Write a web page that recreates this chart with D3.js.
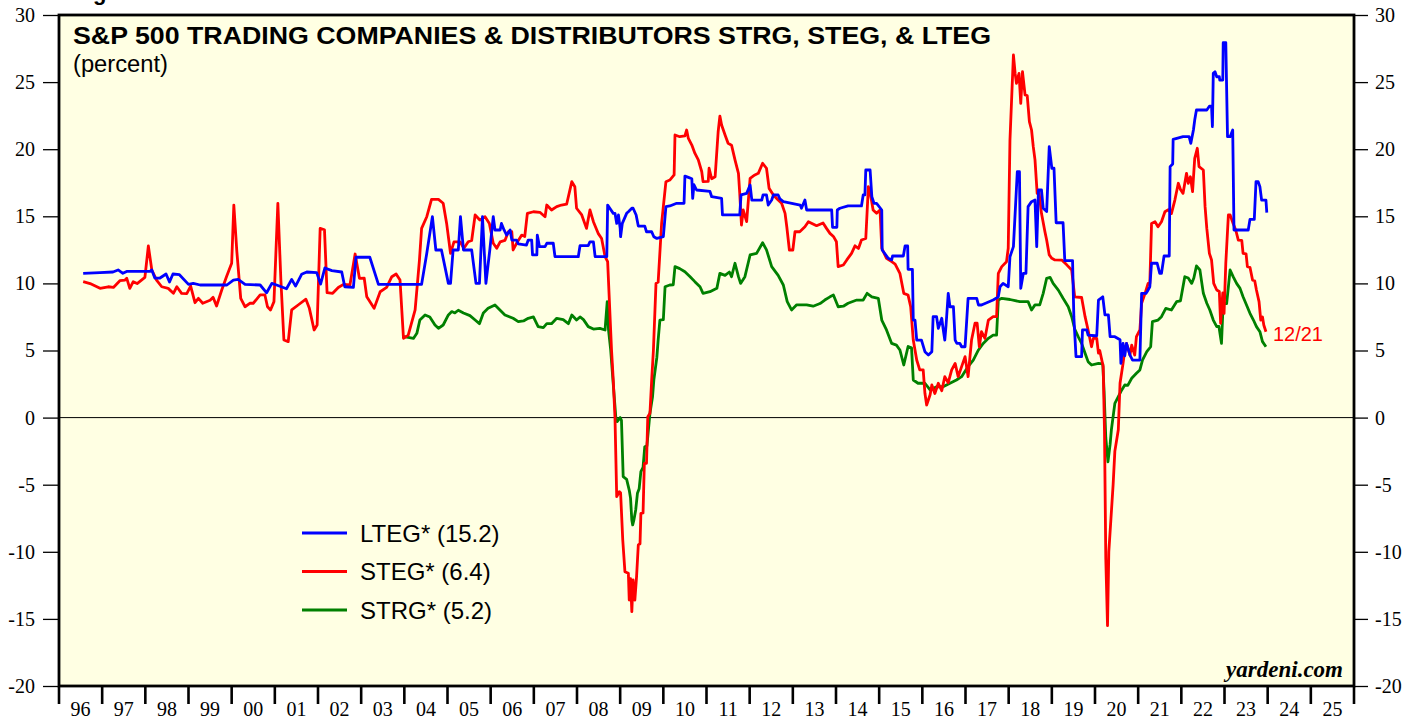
<!DOCTYPE html>
<html><head><meta charset="utf-8">
<script src="https://cdn.jsdelivr.net/npm/d3@7"></script>
<style>html,body{margin:0;padding:0;background:#fff;}svg{display:block;}</style>
</head><body>
<svg id="c" width="1419" height="719"></svg>
<script>
// ---- DATA (decimal year, percent) ----
const lteg = [[1996.56,10.75],[1996.95,10.8],[1997.25,10.85],[1997.37,11.0],[1997.48,10.75],[1997.58,10.9],[1998.11,10.9],[1998.15,11.0],[1998.22,10.4],[1998.34,10.4],[1998.48,10.7],[1998.56,10.1],[1998.64,10.7],[1998.79,10.65],[1999.0,9.93],[1999.11,10.0],[1999.27,9.88],[1999.89,9.88],[2000.04,10.25],[2000.15,10.3],[2000.31,9.93],[2000.66,9.88],[2000.81,9.3],[2000.93,10.0],[2001.04,9.88],[2001.27,9.6],[2001.39,10.3],[2001.48,9.8],[2001.62,10.68],[2001.74,10.85],[2001.97,10.8],[2002.06,9.95],[2002.16,11.15],[2002.32,10.95],[2002.55,10.85],[2002.62,9.75],[2002.82,9.7],[2002.88,11.95],[2003.2,11.95],[2003.4,9.93],[2004.4,9.93],[2004.52,12.24],[2004.65,14.97],[2004.73,12.49],[2004.86,12.49],[2005.02,10.0],[2005.07,10.0],[2005.13,12.49],[2005.25,12.49],[2005.3,14.97],[2005.37,12.49],[2005.56,12.49],[2005.66,10.0],[2005.74,10.0],[2005.81,14.97],[2005.89,10.0],[2005.98,12.49],[2006.06,14.97],[2006.1,13.98],[2006.22,13.98],[2006.25,14.47],[2006.31,13.98],[2006.37,13.6],[2006.45,13.98],[2006.49,13.23],[2006.6,13.23],[2006.64,12.94],[2006.83,12.86],[2006.87,13.23],[2006.95,13.23],[2006.97,12.12],[2007.07,12.12],[2007.08,13.6],[2007.13,12.74],[2007.26,12.74],[2007.3,12.99],[2007.45,12.99],[2007.49,11.99],[2008.03,11.99],[2008.07,12.81],[2008.26,12.81],[2008.3,13.1],[2008.38,13.1],[2008.42,11.99],[2008.69,11.99],[2008.71,15.84],[2008.76,15.6],[2008.84,15.22],[2008.88,15.22],[2008.92,14.47],[2008.96,15.1],[2009.0,14.1],[2009.01,13.48],[2009.05,14.47],[2009.15,15.22],[2009.19,15.34],[2009.27,15.6],[2009.3,15.6],[2009.37,15.1],[2009.42,14.27],[2009.57,14.27],[2009.61,13.85],[2009.73,13.85],[2009.78,13.48],[2009.85,13.35],[2010.0,13.48],[2010.06,15.72],[2010.15,15.77],[2010.31,15.97],[2010.48,15.97],[2010.5,18.0],[2010.58,17.9],[2010.66,17.8],[2010.68,16.34],[2010.71,17.35],[2010.77,16.96],[2011.08,16.85],[2011.12,16.46],[2011.35,16.34],[2011.37,15.1],[2011.77,15.1],[2011.8,16.59],[2011.93,16.71],[2012.01,17.33],[2012.05,16.21],[2012.28,16.21],[2012.31,16.59],[2012.39,16.59],[2012.43,15.84],[2012.51,16.21],[2012.55,16.59],[2012.66,16.59],[2012.7,16.3],[2012.78,16.09],[2013.17,15.84],[2013.2,15.6],[2013.28,16.21],[2013.32,15.47],[2013.9,15.47],[2013.92,14.18],[2014.02,14.18],[2014.03,15.47],[2014.09,15.6],[2014.28,15.77],[2014.59,15.77],[2014.63,16.59],[2014.67,16.59],[2014.69,18.45],[2014.79,18.45],[2014.83,16.46],[2014.88,15.97],[2014.94,15.97],[2015.06,15.47],[2015.07,12.49],[2015.21,11.87],[2015.29,11.75],[2015.31,12.04],[2015.56,12.04],[2015.6,12.79],[2015.66,12.79],[2015.67,11.05],[2015.77,11.05],[2015.79,7.27],[2015.83,7.27],[2015.87,5.78],[2015.98,5.78],[2016.06,4.91],[2016.14,4.66],[2016.22,4.91],[2016.25,7.52],[2016.33,7.52],[2016.37,6.65],[2016.45,7.4],[2016.48,6.65],[2016.52,5.78],[2016.55,6.9],[2016.6,9.26],[2016.64,8.26],[2016.72,8.26],[2016.76,5.78],[2016.8,5.53],[2016.87,5.53],[2016.91,5.28],[2016.99,5.28],[2017.06,8.89],[2017.26,8.89],[2017.3,8.39],[2017.37,8.39],[2017.64,8.76],[2017.76,9.0],[2017.8,9.75],[2017.87,10.0],[2017.99,9.75],[2018.03,11.99],[2018.11,12.74],[2018.2,18.32],[2018.25,18.32],[2018.28,9.63],[2018.34,10.75],[2018.4,10.75],[2018.45,15.72],[2018.53,16.09],[2018.61,16.21],[2018.65,12.74],[2018.69,16.96],[2018.76,16.96],[2018.8,15.6],[2018.88,15.35],[2018.94,20.19],[2019.0,18.58],[2019.05,18.58],[2019.1,14.52],[2019.26,14.52],[2019.3,11.7],[2019.48,11.7],[2019.51,7.5],[2019.56,4.54],[2019.69,4.54],[2019.71,6.53],[2019.81,6.53],[2019.84,6.15],[2020.0,6.1],[2020.04,6.1],[2020.08,8.76],[2020.18,9.0],[2020.23,7.65],[2020.31,7.65],[2020.35,6.03],[2020.46,6.03],[2020.58,5.8],[2020.6,4.04],[2020.65,5.53],[2020.69,4.6],[2020.73,5.53],[2020.81,4.66],[2020.87,4.29],[2021.04,4.29],[2021.08,9.26],[2021.18,9.26],[2021.21,9.4],[2021.27,9.75],[2021.31,11.5],[2021.44,11.5],[2021.5,10.75],[2021.54,10.75],[2021.6,12.04],[2021.72,12.04],[2021.74,18.7],[2021.8,18.9],[2021.81,20.73],[2022.04,20.93],[2022.18,20.93],[2022.22,20.44],[2022.28,21.43],[2022.31,22.17],[2022.35,22.92],[2022.59,22.92],[2022.65,23.2],[2022.7,23.2],[2022.72,21.68],[2022.74,25.65],[2022.78,25.77],[2022.82,25.4],[2022.88,25.4],[2022.89,25.15],[2022.96,25.15],[2022.97,27.94],[2023.03,27.94],[2023.07,20.93],[2023.13,20.93],[2023.19,21.43],[2023.22,13.98],[2023.28,13.98],[2023.55,13.98],[2023.59,14.77],[2023.69,14.77],[2023.73,17.58],[2023.78,17.58],[2023.82,17.21],[2023.86,16.21],[2023.96,16.21],[2023.98,15.27]];

const steg = [[1996.56,10.13],[1996.72,9.99],[1996.95,9.63],[1997.14,9.75],[1997.26,9.7],[1997.41,10.2],[1997.53,10.25],[1997.57,10.38],[1997.64,9.63],[1997.72,10.13],[1997.81,9.99],[1997.99,10.45],[1998.07,12.79],[1998.15,11.0],[1998.26,10.25],[1998.38,9.75],[1998.53,9.63],[1998.65,9.26],[1998.73,9.75],[1998.84,9.26],[1998.96,9.24],[1999.05,9.8],[1999.15,8.56],[1999.23,8.89],[1999.33,8.52],[1999.5,8.74],[1999.57,8.96],[1999.65,8.32],[1999.77,9.51],[1999.88,10.5],[2000.0,11.5],[2000.05,15.84],[2000.12,12.37],[2000.21,8.89],[2000.31,8.26],[2000.42,8.52],[2000.5,8.52],[2000.66,9.14],[2000.77,9.14],[2000.83,8.26],[2000.9,8.02],[2000.98,8.64],[2001.07,15.97],[2001.14,10.25],[2001.21,5.78],[2001.31,5.66],[2001.39,8.02],[2001.54,8.39],[2001.72,8.82],[2001.8,8.14],[2001.91,6.53],[2001.98,6.9],[2002.05,14.1],[2002.15,14.0],[2002.21,9.31],[2002.34,9.26],[2002.47,9.7],[2002.59,9.93],[2002.74,9.88],[2002.86,12.19],[2002.96,10.38],[2003.07,10.4],[2003.13,9.0],[2003.3,8.14],[2003.44,9.38],[2003.59,9.7],[2003.71,10.5],[2003.81,10.7],[2003.9,10.25],[2003.98,5.91],[2004.09,6.15],[2004.25,8.02],[2004.35,11.74],[2004.4,14.1],[2004.52,14.97],[2004.63,16.26],[2004.79,16.26],[2004.9,15.97],[2004.98,14.47],[2005.07,12.24],[2005.15,13.1],[2005.29,13.1],[2005.38,12.62],[2005.48,13.1],[2005.56,13.2],[2005.64,15.1],[2005.75,14.72],[2005.87,14.97],[2005.97,14.47],[2006.06,12.99],[2006.14,12.62],[2006.22,13.1],[2006.33,13.2],[2006.41,13.85],[2006.49,13.85],[2006.52,12.49],[2006.6,12.99],[2006.72,13.6],[2006.79,13.5],[2006.85,15.22],[2006.99,15.34],[2007.14,15.3],[2007.26,14.97],[2007.3,15.84],[2007.41,15.47],[2007.53,15.72],[2007.64,15.84],[2007.76,15.9],[2007.88,17.58],[2007.95,17.2],[2007.99,15.6],[2008.11,15.1],[2008.22,14.1],[2008.3,15.47],[2008.38,14.6],[2008.49,13.73],[2008.57,13.35],[2008.65,12.0],[2008.71,11.62],[2008.8,5.04],[2008.84,2.8],[2008.88,0],[2008.92,-5.89],[2008.98,-5.52],[2009.01,-5.6],[2009.06,-9.12],[2009.11,-11.48],[2009.19,-11.6],[2009.21,-13.59],[2009.24,-12.0],[2009.27,-14.46],[2009.3,-12.1],[2009.34,-13.6],[2009.38,-11.85],[2009.42,-9.49],[2009.46,-9.4],[2009.48,-7.13],[2009.53,-7.1],[2009.56,-3.41],[2009.61,-3.4],[2009.64,0.07],[2009.69,0.32],[2009.73,2.8],[2009.77,5.0],[2009.83,10.0],[2009.88,10.1],[2009.96,14.47],[2010.06,17.58],[2010.15,17.7],[2010.25,18.08],[2010.27,21.06],[2010.38,20.93],[2010.5,21.0],[2010.54,21.43],[2010.58,20.8],[2010.66,20.31],[2010.73,19.7],[2010.81,19.2],[2010.89,18.32],[2010.92,17.58],[2011.04,17.6],[2011.06,18.58],[2011.12,17.8],[2011.2,17.95],[2011.27,21.3],[2011.31,22.47],[2011.35,21.8],[2011.43,21.06],[2011.5,20.44],[2011.58,20.3],[2011.66,19.2],[2011.74,18.2],[2011.77,16.71],[2011.81,14.35],[2011.85,15.47],[2011.93,14.6],[2012.01,17.83],[2012.12,18.08],[2012.2,18.2],[2012.3,18.95],[2012.39,18.58],[2012.45,17.08],[2012.55,16.59],[2012.66,16.21],[2012.74,15.97],[2012.82,15.22],[2012.86,14.22],[2012.92,12.49],[2013.0,12.49],[2013.05,13.85],[2013.16,13.85],[2013.28,14.22],[2013.36,14.6],[2013.55,14.3],[2013.7,14.5],[2013.78,14.1],[2013.86,13.73],[2013.94,13.5],[2014.01,13.1],[2014.05,11.25],[2014.17,11.37],[2014.25,11.75],[2014.36,12.24],[2014.44,12.8],[2014.52,12.6],[2014.59,13.23],[2014.69,13.35],[2014.75,17.21],[2014.8,16.6],[2014.86,15.47],[2014.94,15.22],[2015.02,15.47],[2015.06,12.62],[2015.17,11.87],[2015.29,11.62],[2015.37,11.44],[2015.48,10.75],[2015.57,9.26],[2015.67,9.13],[2015.73,8.26],[2015.79,5.78],[2015.87,4.29],[2015.94,3.55],[2016.02,3.55],[2016.06,1.81],[2016.1,0.94],[2016.18,1.7],[2016.22,2.43],[2016.29,1.8],[2016.37,2.56],[2016.45,2.0],[2016.52,3.05],[2016.6,2.6],[2016.68,3.55],[2016.76,4.04],[2016.83,3.05],[2016.91,3.8],[2016.99,4.54],[2017.06,3.05],[2017.14,5.78],[2017.22,7.03],[2017.27,7.03],[2017.32,5.28],[2017.37,6.4],[2017.45,5.9],[2017.53,7.27],[2017.64,7.52],[2017.72,7.52],[2017.76,10.75],[2017.84,11.25],[2017.95,11.62],[2017.99,12.62],[2018.03,20.69],[2018.11,27.02],[2018.15,25.65],[2018.18,24.9],[2018.24,25.65],[2018.28,23.42],[2018.32,25.77],[2018.38,24.04],[2018.43,24.0],[2018.48,22.05],[2018.53,21.43],[2018.57,20.19],[2018.61,19.2],[2018.66,16.71],[2018.7,16.9],[2018.76,15.22],[2018.84,13.85],[2018.88,13.23],[2018.94,12.12],[2019.0,11.87],[2019.07,11.75],[2019.23,11.74],[2019.34,11.4],[2019.46,11.0],[2019.53,9.0],[2019.69,8.95],[2019.77,7.52],[2019.84,6.53],[2019.92,5.28],[2019.96,5.9],[2020.04,5.9],[2020.08,4.8],[2020.11,5.0],[2020.19,3.8],[2020.22,-1.0],[2020.25,-10.5],[2020.29,-15.5],[2020.32,-10.0],[2020.37,-7.5],[2020.42,-5.0],[2020.46,-2.5],[2020.54,-0.9],[2020.58,2.56],[2020.65,4.04],[2020.69,5.04],[2020.73,5.53],[2020.81,4.66],[2020.85,5.4],[2020.92,4.66],[2020.96,6.03],[2021.04,6.53],[2021.08,8.52],[2021.16,9.26],[2021.23,10.0],[2021.27,10.0],[2021.31,14.47],[2021.39,14.6],[2021.46,14.22],[2021.54,14.6],[2021.62,15.34],[2021.7,15.5],[2021.77,15.2],[2021.85,16.21],[2021.93,17.46],[2021.98,17.0],[2022.04,16.71],[2022.12,18.2],[2022.16,17.46],[2022.21,17.95],[2022.26,16.84],[2022.31,19.32],[2022.37,20.07],[2022.41,18.7],[2022.51,18.45],[2022.55,15.72],[2022.59,14.1],[2022.65,12.24],[2022.7,11.74],[2022.75,10.0],[2022.82,9.51],[2022.88,9.4],[2022.91,7.03],[2022.96,9.3],[2022.99,7.77],[2023.03,11.5],[2023.09,15.1],[2023.13,15.1],[2023.2,14.47],[2023.26,13.98],[2023.32,13.23],[2023.4,13.2],[2023.43,12.24],[2023.5,12.2],[2023.53,11.25],[2023.59,11.2],[2023.65,10.25],[2023.7,10.2],[2023.74,9.51],[2023.8,8.64],[2023.84,7.27],[2023.88,7.5],[2023.91,6.9],[2023.96,6.4]];

const strg = [[2003.98,6.03],[2004.09,5.97],[2004.21,5.9],[2004.29,6.28],[2004.36,7.27],[2004.48,7.65],[2004.59,7.5],[2004.71,6.9],[2004.79,6.65],[2004.9,6.9],[2005.02,7.65],[2005.1,7.9],[2005.17,7.8],[2005.25,8.0],[2005.37,7.8],[2005.52,7.6],[2005.64,7.27],[2005.74,7.0],[2005.83,7.8],[2005.94,8.14],[2006.1,8.39],[2006.22,8.0],[2006.33,7.65],[2006.52,7.4],[2006.64,7.15],[2006.76,7.2],[2006.87,7.4],[2006.99,7.5],[2007.1,6.78],[2007.22,6.7],[2007.3,7.0],[2007.41,7.0],[2007.53,7.4],[2007.68,7.3],[2007.8,7.0],[2007.88,7.65],[2007.99,7.27],[2008.07,7.5],[2008.15,7.3],[2008.26,6.78],[2008.38,6.6],[2008.53,6.65],[2008.65,6.53],[2008.7,8.64],[2008.73,6.53],[2008.78,5.04],[2008.84,2.5],[2008.9,0],[2008.93,-0.3],[2009.0,0],[2009.03,-0.2],[2009.07,-4.4],[2009.15,-4.6],[2009.21,-5.4],[2009.24,-6.0],[2009.27,-7.63],[2009.29,-8.0],[2009.32,-7.6],[2009.36,-6.88],[2009.4,-5.64],[2009.44,-5.3],[2009.48,-4.03],[2009.53,-3.7],[2009.57,-2.17],[2009.62,-2.1],[2009.69,0.32],[2009.75,1.56],[2009.78,2.8],[2009.85,4.5],[2009.88,5.78],[2009.92,7.27],[2010.0,7.3],[2010.04,9.75],[2010.15,9.88],[2010.23,9.9],[2010.27,11.25],[2010.38,11.1],[2010.5,10.87],[2010.62,10.5],[2010.73,10.13],[2010.85,9.75],[2010.92,9.26],[2011.08,9.38],[2011.24,9.63],[2011.31,10.75],[2011.43,10.6],[2011.53,10.85],[2011.58,10.5],[2011.66,11.5],[2011.74,10.5],[2011.79,10.0],[2011.89,10.5],[2012.01,12.12],[2012.16,12.24],[2012.3,13.03],[2012.39,12.5],[2012.51,11.25],[2012.66,10.6],[2012.78,9.88],[2012.87,8.64],[2012.97,8.02],[2013.09,8.4],[2013.32,8.4],[2013.47,8.3],[2013.63,8.5],[2013.74,8.76],[2013.86,9.0],[2013.94,9.13],[2014.05,8.26],[2014.17,8.3],[2014.28,8.52],[2014.48,8.76],[2014.63,8.76],[2014.72,9.26],[2014.83,9.0],[2014.98,8.89],[2015.06,7.27],[2015.17,6.53],[2015.29,5.53],[2015.4,5.4],[2015.48,5.04],[2015.57,3.92],[2015.67,5.3],[2015.75,5.2],[2015.79,2.8],[2015.9,2.56],[2016.06,2.56],[2016.18,2.06],[2016.33,2.3],[2016.48,2.3],[2016.64,2.56],[2016.79,2.8],[2016.91,3.05],[2017.06,3.8],[2017.18,4.29],[2017.3,5.04],[2017.41,5.53],[2017.53,5.91],[2017.64,6.15],[2017.72,6.15],[2017.76,8.76],[2017.84,8.89],[2018.03,8.8],[2018.26,8.64],[2018.45,8.64],[2018.53,8.02],[2018.61,8.4],[2018.72,8.4],[2018.8,9.26],[2018.88,10.38],[2018.96,10.45],[2019.03,10.0],[2019.15,9.5],[2019.26,8.89],[2019.38,8.26],[2019.46,7.52],[2019.53,6.6],[2019.61,6.03],[2019.69,5.53],[2019.77,4.79],[2019.84,4.17],[2019.92,3.92],[2020.08,4.04],[2020.18,4.0],[2020.21,2.0],[2020.25,-1.5],[2020.3,-3.3],[2020.35,-2.0],[2020.38,-0.9],[2020.46,1.06],[2020.54,1.56],[2020.62,2.06],[2020.69,2.43],[2020.76,2.4],[2020.85,2.93],[2020.96,3.3],[2021.04,3.55],[2021.1,4.29],[2021.2,4.91],[2021.29,5.28],[2021.33,7.15],[2021.46,7.27],[2021.54,7.52],[2021.64,8.14],[2021.77,8.02],[2021.89,8.64],[2021.98,8.7],[2022.08,10.5],[2022.16,10.4],[2022.24,10.0],[2022.29,10.4],[2022.35,11.3],[2022.43,11.0],[2022.51,9.26],[2022.59,8.52],[2022.66,8.02],[2022.74,7.27],[2022.82,6.78],[2022.87,6.8],[2022.93,5.53],[2022.97,8.52],[2023.05,8.5],[2023.13,11.0],[2023.2,10.5],[2023.28,10.0],[2023.36,9.63],[2023.43,9.0],[2023.51,8.39],[2023.59,7.77],[2023.67,7.27],[2023.74,6.78],[2023.82,6.4],[2023.88,5.66],[2023.96,5.28]];

const yTicks = [-20,-15,-10,-5,0,5,10,15,20,25,30];
const yearStarts = d3.range(1996, 2027);
const yearLabels = ["96","97","98","99","00","01","02","03","04","05","06","07","08","09","10","11","12","13","14","15","16","17","18","19","20","21","22","23","24","25"];
const legendItems = [
  {name:"LTEG* (15.2)", color:"#0000ff"},
  {name:"STEG* (6.4)", color:"#ff0000"},
  {name:"STRG* (5.2)", color:"#008000"}
];
const titleText = "S&P 500 TRADING COMPANIES & DISTRIBUTORS STRG, STEG, & LTEG";
const subtitleText = "(percent)";
const lastDateLabel = "12/21";

// ---- CHART ----
const svg = d3.select("#c");
const L = 59, R = 1354, T = 15, B = 686;
const x = d3.scaleLinear().domain([1996, 2026]).range([L, R]);
const y = d3.scaleLinear().domain([-20, 30]).range([B, T]);
const serif = "'Liberation Serif','Times New Roman',serif";
const sans = "'Liberation Sans',Arial,sans-serif";

// cropped header glyph at very top (as in the source image)
svg.append("text").attr("x", 93).attr("y", 0).attr("font-family", sans)
  .attr("font-weight", "bold").attr("font-size", 22).text("g");

svg.append("rect").attr("x", L).attr("y", T).attr("width", R - L).attr("height", B - T)
  .attr("fill", "#ffffe3");

// zero line
svg.append("line").attr("x1", L).attr("x2", R).attr("y1", y(0)).attr("y2", y(0))
  .attr("stroke", "#000").attr("stroke-width", 1);

// left / right axes
const yl = svg.append("g").attr("transform", `translate(${L},0)`)
  .call(d3.axisLeft(y).tickValues(yTicks).tickSize(16).tickPadding(8).tickFormat(d3.format("d")));
const yr = svg.append("g").attr("transform", `translate(${R},0)`)
  .call(d3.axisRight(y).tickValues(yTicks).tickSize(14).tickPadding(7).tickFormat(d3.format("d")));
[yl, yr].forEach(g => {
  g.select(".domain").remove();
  g.selectAll("line").attr("stroke", "#000").attr("stroke-width", 1.3);
  g.selectAll("text").attr("font-family", serif).attr("font-size", 20).attr("fill", "#000")
    .text(d => d < 0 ? "-" + Math.abs(d) : d);
});

// bottom axis: tick marks at year boundaries, labels mid-year
const xb = svg.append("g").attr("transform", `translate(0,${B})`);
xb.selectAll("line").data(yearStarts).join("line")
  .attr("x1", d => x(d)).attr("x2", d => x(d)).attr("y1", 0).attr("y2", 18)
  .attr("stroke", "#000").attr("stroke-width", 2.6);
xb.selectAll("text").data(yearLabels).join("text")
  .attr("x", (d, i) => x(1996 + i + 0.5)).attr("y", 30)
  .attr("text-anchor", "middle").attr("font-family", serif).attr("font-size", 20).text(d => d);

// series
const line = d3.line().x(d => x(d[0])).y(d => y(d[1]));
svg.append("clipPath").attr("id", "pc").append("rect")
  .attr("x", L).attr("y", T).attr("width", R - L).attr("height", B - T);
const plot = svg.append("g").attr("clip-path", "url(#pc)");
[[strg, "#008000"], [steg, "#ff0000"], [lteg, "#0000ff"]].forEach(([data, c]) => {
  plot.append("path").datum(data).attr("d", line).attr("fill", "none")
    .attr("stroke", c).attr("stroke-width", 2.8).attr("stroke-linejoin", "round");
});

// frame
svg.append("rect").attr("x", L).attr("y", T).attr("width", R - L).attr("height", B - T)
  .attr("fill", "none").attr("stroke", "#000").attr("stroke-width", 2.8);

// titles
svg.append("text").attr("x", 73).attr("y", 44).attr("font-family", sans).attr("font-weight", "bold")
  .attr("font-size", 24).attr("textLength", 918).attr("lengthAdjust", "spacingAndGlyphs")
  .attr("fill", "#000").text(titleText);
svg.append("text").attr("x", 73).attr("y", 72).attr("font-family", sans)
  .attr("font-size", 23).attr("textLength", 95).attr("lengthAdjust", "spacingAndGlyphs")
  .attr("fill", "#000").text(subtitleText);

// legend
const lg = svg.append("g");
legendItems.forEach((it, i) => {
  const ly = 533 + i * 38.5;
  lg.append("line").attr("x1", 302).attr("x2", 347).attr("y1", ly).attr("y2", ly)
    .attr("stroke", it.color).attr("stroke-width", 3);
  lg.append("text").attr("x", 360).attr("y", ly + 8.5).attr("font-family", sans)
    .attr("font-size", 24).attr("fill", "#000").text(it.name);
});

// last date label
svg.append("text").attr("x", x(steg[steg.length - 1][0]) + 7).attr("y", 341)
  .attr("font-family", sans).attr("font-size", 20).attr("fill", "#ff0000").text(lastDateLabel);

// source
svg.append("text").attr("x", 1343).attr("y", 677).attr("text-anchor", "end")
  .attr("font-family", serif).attr("font-weight", "bold").attr("font-style", "italic")
  .attr("font-size", 23).attr("fill", "#000").text("yardeni.com");
</script>
</body></html>
